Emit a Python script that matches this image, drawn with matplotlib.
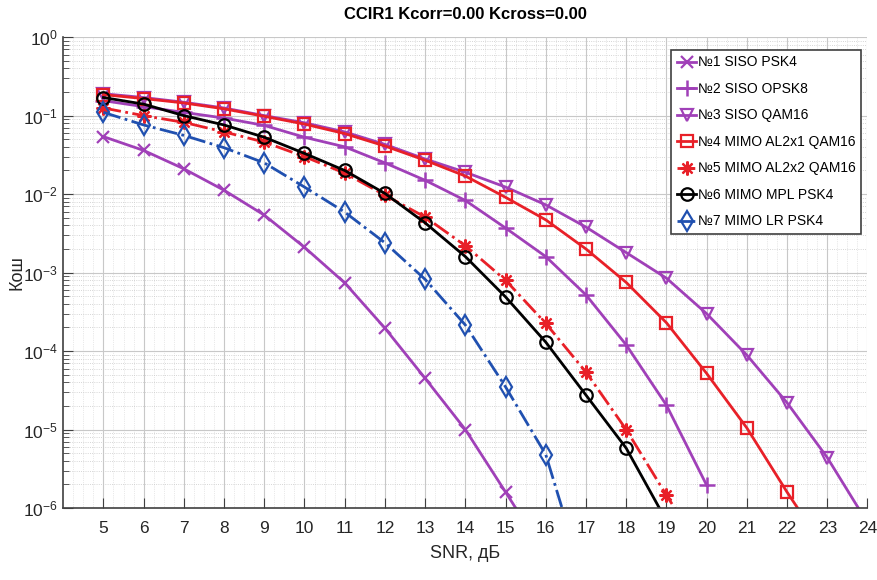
import numpy as np
import matplotlib.pyplot as plt
from matplotlib.ticker import LogLocator, NullFormatter

plt.rcParams['font.family'] = ['Liberation Sans', 'DejaVu Sans']

# SNR, dB
snr1 = [5, 6, 7, 8, 9, 10, 11, 12, 13, 14, 15, 16]
ber1 = [0.054, 0.036, 0.021, 0.0112, 0.0054, 0.0021, 7.4e-4, 1.96e-4, 4.5e-5, 1.0e-5, 1.6e-6, 2.5e-7]

snr2 = [5, 6, 7, 8, 9, 10, 11, 12, 13, 14, 15, 16, 17, 18, 19, 20]
ber2 = [0.155, 0.13, 0.11, 0.093, 0.075, 0.053, 0.040, 0.025, 0.015, 0.0083, 0.0037, 0.0016,
        5.2e-4, 1.2e-4, 2.05e-5, 1.96e-6]

snr3 = [5, 6, 7, 8, 9, 10, 11, 12, 13, 14, 15, 16, 17, 18, 19, 20, 21, 22, 23, 24]
ber3 = [0.19, 0.17, 0.148, 0.125, 0.10, 0.081, 0.062, 0.043, 0.028, 0.019, 0.0123, 0.0073,
        0.0038, 0.0018, 8.5e-4, 3.0e-4, 8.9e-5, 2.2e-5, 4.4e-6, 6.5e-7]

snr4 = [5, 6, 7, 8, 9, 10, 11, 12, 13, 14, 15, 16, 17, 18, 19, 20, 21, 22, 23]
ber4 = [0.185, 0.165, 0.145, 0.122, 0.098, 0.078, 0.059, 0.041, 0.027, 0.017, 0.0091, 0.0047,
        0.0020, 7.5e-4, 2.3e-4, 5.2e-5, 1.05e-5, 1.6e-6, 2.7e-7]

snr5 = [5, 6, 7, 8, 9, 10, 11, 12, 13, 14, 15, 16, 17, 18, 19, 20]
ber5 = [0.125, 0.10, 0.082, 0.062, 0.046, 0.030, 0.0185, 0.0097, 0.0051, 0.0022, 8.0e-4, 2.25e-4,
        5.4e-5, 1.0e-5, 1.46e-6, 2.3e-7]

snr6 = [5, 6, 7, 8, 9, 10, 11, 12, 13, 14, 15, 16, 17, 18, 19]
ber6 = [0.17, 0.14, 0.10, 0.076, 0.053, 0.033, 0.020, 0.0102, 0.0043, 0.0016, 4.9e-4, 1.3e-4,
        2.75e-5, 5.8e-6, 6.9e-7]

snr7 = [5, 6, 7, 8, 9, 10, 11, 12, 13, 14, 15, 16, 17]
ber7 = [0.11, 0.076, 0.056, 0.039, 0.025, 0.0123, 0.0059, 0.0024, 8.2e-4, 2.15e-4, 3.5e-5, 4.8e-6, 1.0e-7]

labels = ['№1 SISO PSK4', '№2 SISO OPSK8', '№3 SISO QAM16', '№4 MIMO AL2x1 QAM16',
          '№5 MIMO AL2x2 QAM16', '№6 MIMO MPL PSK4', '№7 MIMO LR PSK4']

purple = '#a040b8'
red = '#e82028'
blue = '#2050b0'

fig = plt.figure(figsize=(8.78, 5.8), dpi=100)
ax = fig.add_axes([0.072, 0.124, 0.916, 0.812])

lw = 2.0
ms = 9
ax.plot(snr1, ber1, '-', marker='x', color=purple, lw=lw, ms=ms, mew=1.6, label=labels[0])
ax.plot(snr2, ber2, '-', marker='+', color=purple, lw=lw, ms=ms + 2, mew=1.8, label=labels[1])
ax.plot(snr3, ber3, '-', marker='v', color=purple, lw=lw, ms=ms, mew=1.6, mfc='none', label=labels[2])
ax.plot(snr4, ber4, '-', marker='s', color=red, lw=lw, ms=ms - 1, mew=1.6, mfc='none', label=labels[3])
ax.plot(snr5, ber5, '-.', marker=(8, 2, 0), color=red, lw=lw, ms=ms + 1, mew=1.6, label=labels[4])
ax.plot(snr6, ber6, '-', marker='o', color='black', lw=lw, ms=ms, mew=1.6, mfc='none', label=labels[5])
ax.plot(snr7, ber7, '-.', marker='d', color=blue, lw=lw, ms=ms + 1, mew=1.6, mfc='none', label=labels[6])

ax.set_yscale('log')
ax.set_xlim(4, 24)
ax.set_ylim(1e-6, 1)
ax.set_xticks(range(5, 25))
ax.yaxis.set_major_locator(LogLocator(base=10, numticks=10))
ax.yaxis.set_minor_locator(LogLocator(base=10, subs=np.arange(2, 10), numticks=100))
ax.yaxis.set_minor_formatter(NullFormatter())

ax.grid(True, which='major', color='#c8c8c8', lw=0.8)
ax.grid(True, which='minor', axis='y', color='#c8c8c8', lw=0.6, ls=':')
ax.set_axisbelow(True)

# minor x grid: dotted lines every 0.25 dB
for xm in np.arange(4, 24.01, 0.25):
    if abs(xm - round(xm)) > 1e-6:
        ax.axvline(xm, color='#d4d4d4', lw=0.5, ls=':', zorder=0)

for side in ('top', 'right'):
    ax.spines[side].set_visible(False)
for side in ('left', 'bottom'):
    ax.spines[side].set_color('#404040')
    ax.spines[side].set_linewidth(1.2)

ax.tick_params(which='both', direction='in', colors='#404040', labelcolor='#262626')
ax.tick_params(which='major', length=7, labelsize=12.5)
ax.tick_params(which='minor', length=4)
ax.tick_params(axis='x', pad=9)
ax.tick_params(axis='y', pad=4)

ax.set_title('CCIR1 Kcorr=0.00 Kcross=0.00', fontsize=12, fontweight='bold', pad=13)
ax.set_xlabel('SNR, дБ', fontsize=13, color='#262626', labelpad=7)
ax.set_ylabel('Кош', fontsize=13, color='#262626')
ax.yaxis.set_label_coords(-0.047, 0.5)

leg = ax.legend(loc='upper right', bbox_to_anchor=(0.992, 0.973), borderaxespad=0,
                fontsize=10, fancybox=False, framealpha=1, edgecolor='#404040',
                handlelength=1.4, handletextpad=0.1, borderpad=0.4, labelspacing=0.9)
leg.get_frame().set_linewidth(1.2)

fig.savefig('out.png', dpi=100)
